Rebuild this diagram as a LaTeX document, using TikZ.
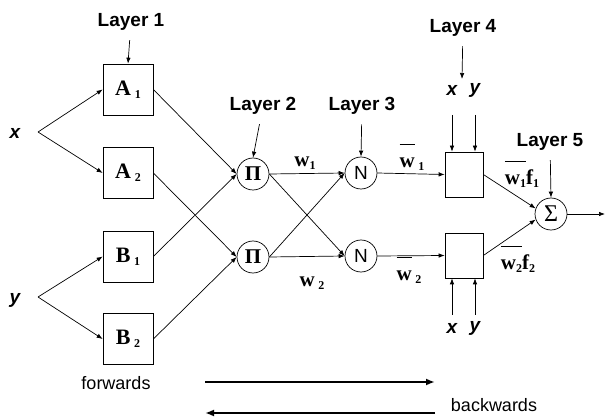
\documentclass[tikz,border=0pt]{standalone}
\usepackage{fontspec}
\setmainfont{Liberation Serif}
\setsansfont{Liberation Sans}
\usetikzlibrary{arrows.meta}

\newlength{\barlen}
\newcommand{\lsub}[1]{\raisebox{-0.3ex}{\fontsize{12}{12}\selectfont #1}}
\newcommand{\obar}[1]{\settowidth{\barlen}{#1}\rlap{\raisebox{1.1em}{\rule{\barlen}{0.7pt}}}#1}

\tikzset{
  lyr/.style={font=\sffamily\bfseries\fontsize{19}{19}\selectfont},
  inp/.style={font=\sffamily\bfseries\itshape\fontsize{19}{19}\selectfont},
  mf/.style={draw, minimum width=50pt, minimum height=51pt, inner sep=0pt,
    font=\bfseries\fontsize{22}{22}\selectfont},
  rulebox/.style={draw, minimum width=38pt, minimum height=45pt, inner sep=0pt},
  op/.style={draw, circle, minimum size=32pt, inner sep=0pt},
  wt/.style={anchor=base, inner sep=0pt, font=\bfseries\fontsize{21}{21}\selectfont},
  arr/.style={-{Latex[length=6pt,width=4.5pt]}, line width=0.7pt},
  lyrarr/.style={arr, shorten <=6pt},
  big/.style={-{Latex[length=9pt,width=7pt]}, line width=1.8pt},
}

\begin{document}
\begin{tikzpicture}[x=1pt, y=-1pt, line width=0.7pt]
    \useasboundingbox (0,0) rectangle (606,417);

    % Layer 1
    \node [mf] (A1) at (128,89.5) {A\,\lsub{1}};
    \node [mf] (A2) at (128,173) {A\,\lsub{2}};
    \node [mf] (B1) at (128,256.5) {B\,\lsub{1}};
    \node [mf] (B2) at (128,339) {B\,\lsub{2}};

    % Layers 2 to 5
    \node [op, font=\bfseries\fontsize{21}{21}\selectfont] (P1) at (253,174) {Π};
    \node [op, font=\bfseries\fontsize{21}{21}\selectfont] (P2) at (253,257) {Π};
    \node [op, font=\sffamily\fontsize{19}{19}\selectfont] (N1) at (361,173) {N};
    \node [op, font=\sffamily\fontsize{19}{19}\selectfont] (N2) at (361,256) {N};
    \node [rulebox] (R1) at (464,174.5) {};
    \node [rulebox] (R2) at (464,255.5) {};
    \node [op, font=\fontsize{24}{24}\selectfont] (S) at (551,214) {Σ};

    % Layer labels
    \node [lyr] (L1) at (131,22) {Layer 1};
    \node [lyr] (L2) at (263,106) {Layer 2};
    \node [lyr] (L3) at (362,106) {Layer 3};
    \node [lyr] (L4) at (463,28) {Layer 4};
    \node [lyr] (L5) at (550,142) {Layer 5};
    \coordinate (L4tip) at (462,79);
    \draw [lyrarr] (L1) -- (A1.north);
    \draw [lyrarr] (L2) -- (P1.north);
    \draw [lyrarr] (L3) -- (N1.north);
    \draw [lyrarr] (L4) -- (L4tip);
    \draw [lyrarr] (L5) -- (S.north);

    % Inputs
    \node [inp] (xin) at (15,133) {x};
    \node [inp] (yin) at (15,300) {y};
    \coordinate (xb) at (38,132);
    \coordinate (yb) at (38,297);
    \draw [arr] (xb) -- (A1.west);
    \draw [arr] (xb) -- (A2.west);
    \draw [arr] (yb) -- (B1.west);
    \draw [arr] (yb) -- (B2.west);

    \node [inp] (x4) at (452,90) {x};
    \node [inp] (y4) at (475,90) {y};
    \node [inp] (x5) at (452,328) {x};
    \node [inp] (y5) at (475,328) {y};
    \draw [arr] ([yshift=-25pt]x4.center) -- (x4 |- R1.north);
    \draw [arr] ([yshift=-25pt]y4.center) -- (y4 |- R1.north);
    \draw [arr] ([yshift=13pt]x5.center) -- (x5 |- R2.south);
    \draw [arr] ([yshift=13pt]y5.center) -- (y5 |- R2.south);

    % Connections
    \draw [arr] (A1.east) -- (P1.west);
    \draw [arr] (B1.east) -- (P1.west);
    \draw [arr] (A2.east) -- (P2.west);
    \draw [arr] (B2.east) -- (P2.west);
    \draw [arr] (P1.east) -- (N1.west);
    \draw [arr] (P1.east) -- (N2.west);
    \draw [arr] (P2.east) -- (N1.west);
    \draw [arr] (P2.east) -- (N2.west);
    \draw [arr] (N1.east) -- (R1.west);
    \draw [arr] (N2.east) -- (R2.west);
    \draw [arr] (R1.east) -- (S.160);
    \draw [arr] (R2.east) -- (S.200);
    \coordinate (out) at (605,214);
    \draw [arr] (S.east) -- (out);

    % Weights
    \node [wt] (w1) at (305,167) {w\lsub{1}};
    \node [wt] (w2) at (312,287) {w\,\lsub{2}};
    \node [wt] (wb1) at (412,168) {\obar{w}\,\lsub{1}};
    \node [wt] (wb2) at (409,281) {\obar{w}\,\lsub{2}};
    \node [wt] (wf1) at (522,185) {\obar{w\lsub{1}}f\lsub{1}};
    \node [wt] (wf2) at (518,270) {\obar{w\lsub{2}}f\lsub{2}};

    % Directions
    \node [font=\sffamily\fontsize{18}{18}\selectfont] (fwd) at (116,383) {forwards};
    \node [font=\sffamily\fontsize{18}{18}\selectfont] (bwd) at (494,405) {backwards};
    \coordinate (fwdA) at (205,382);
    \coordinate (fwdB) at (435,382);
    \coordinate (bwdA) at (435,413);
    \coordinate (bwdB) at (205,413);
    \draw [big] (fwdA) -- (fwdB);
    \draw [big] (bwdA) -- (bwdB);
\end{tikzpicture}
\end{document}
